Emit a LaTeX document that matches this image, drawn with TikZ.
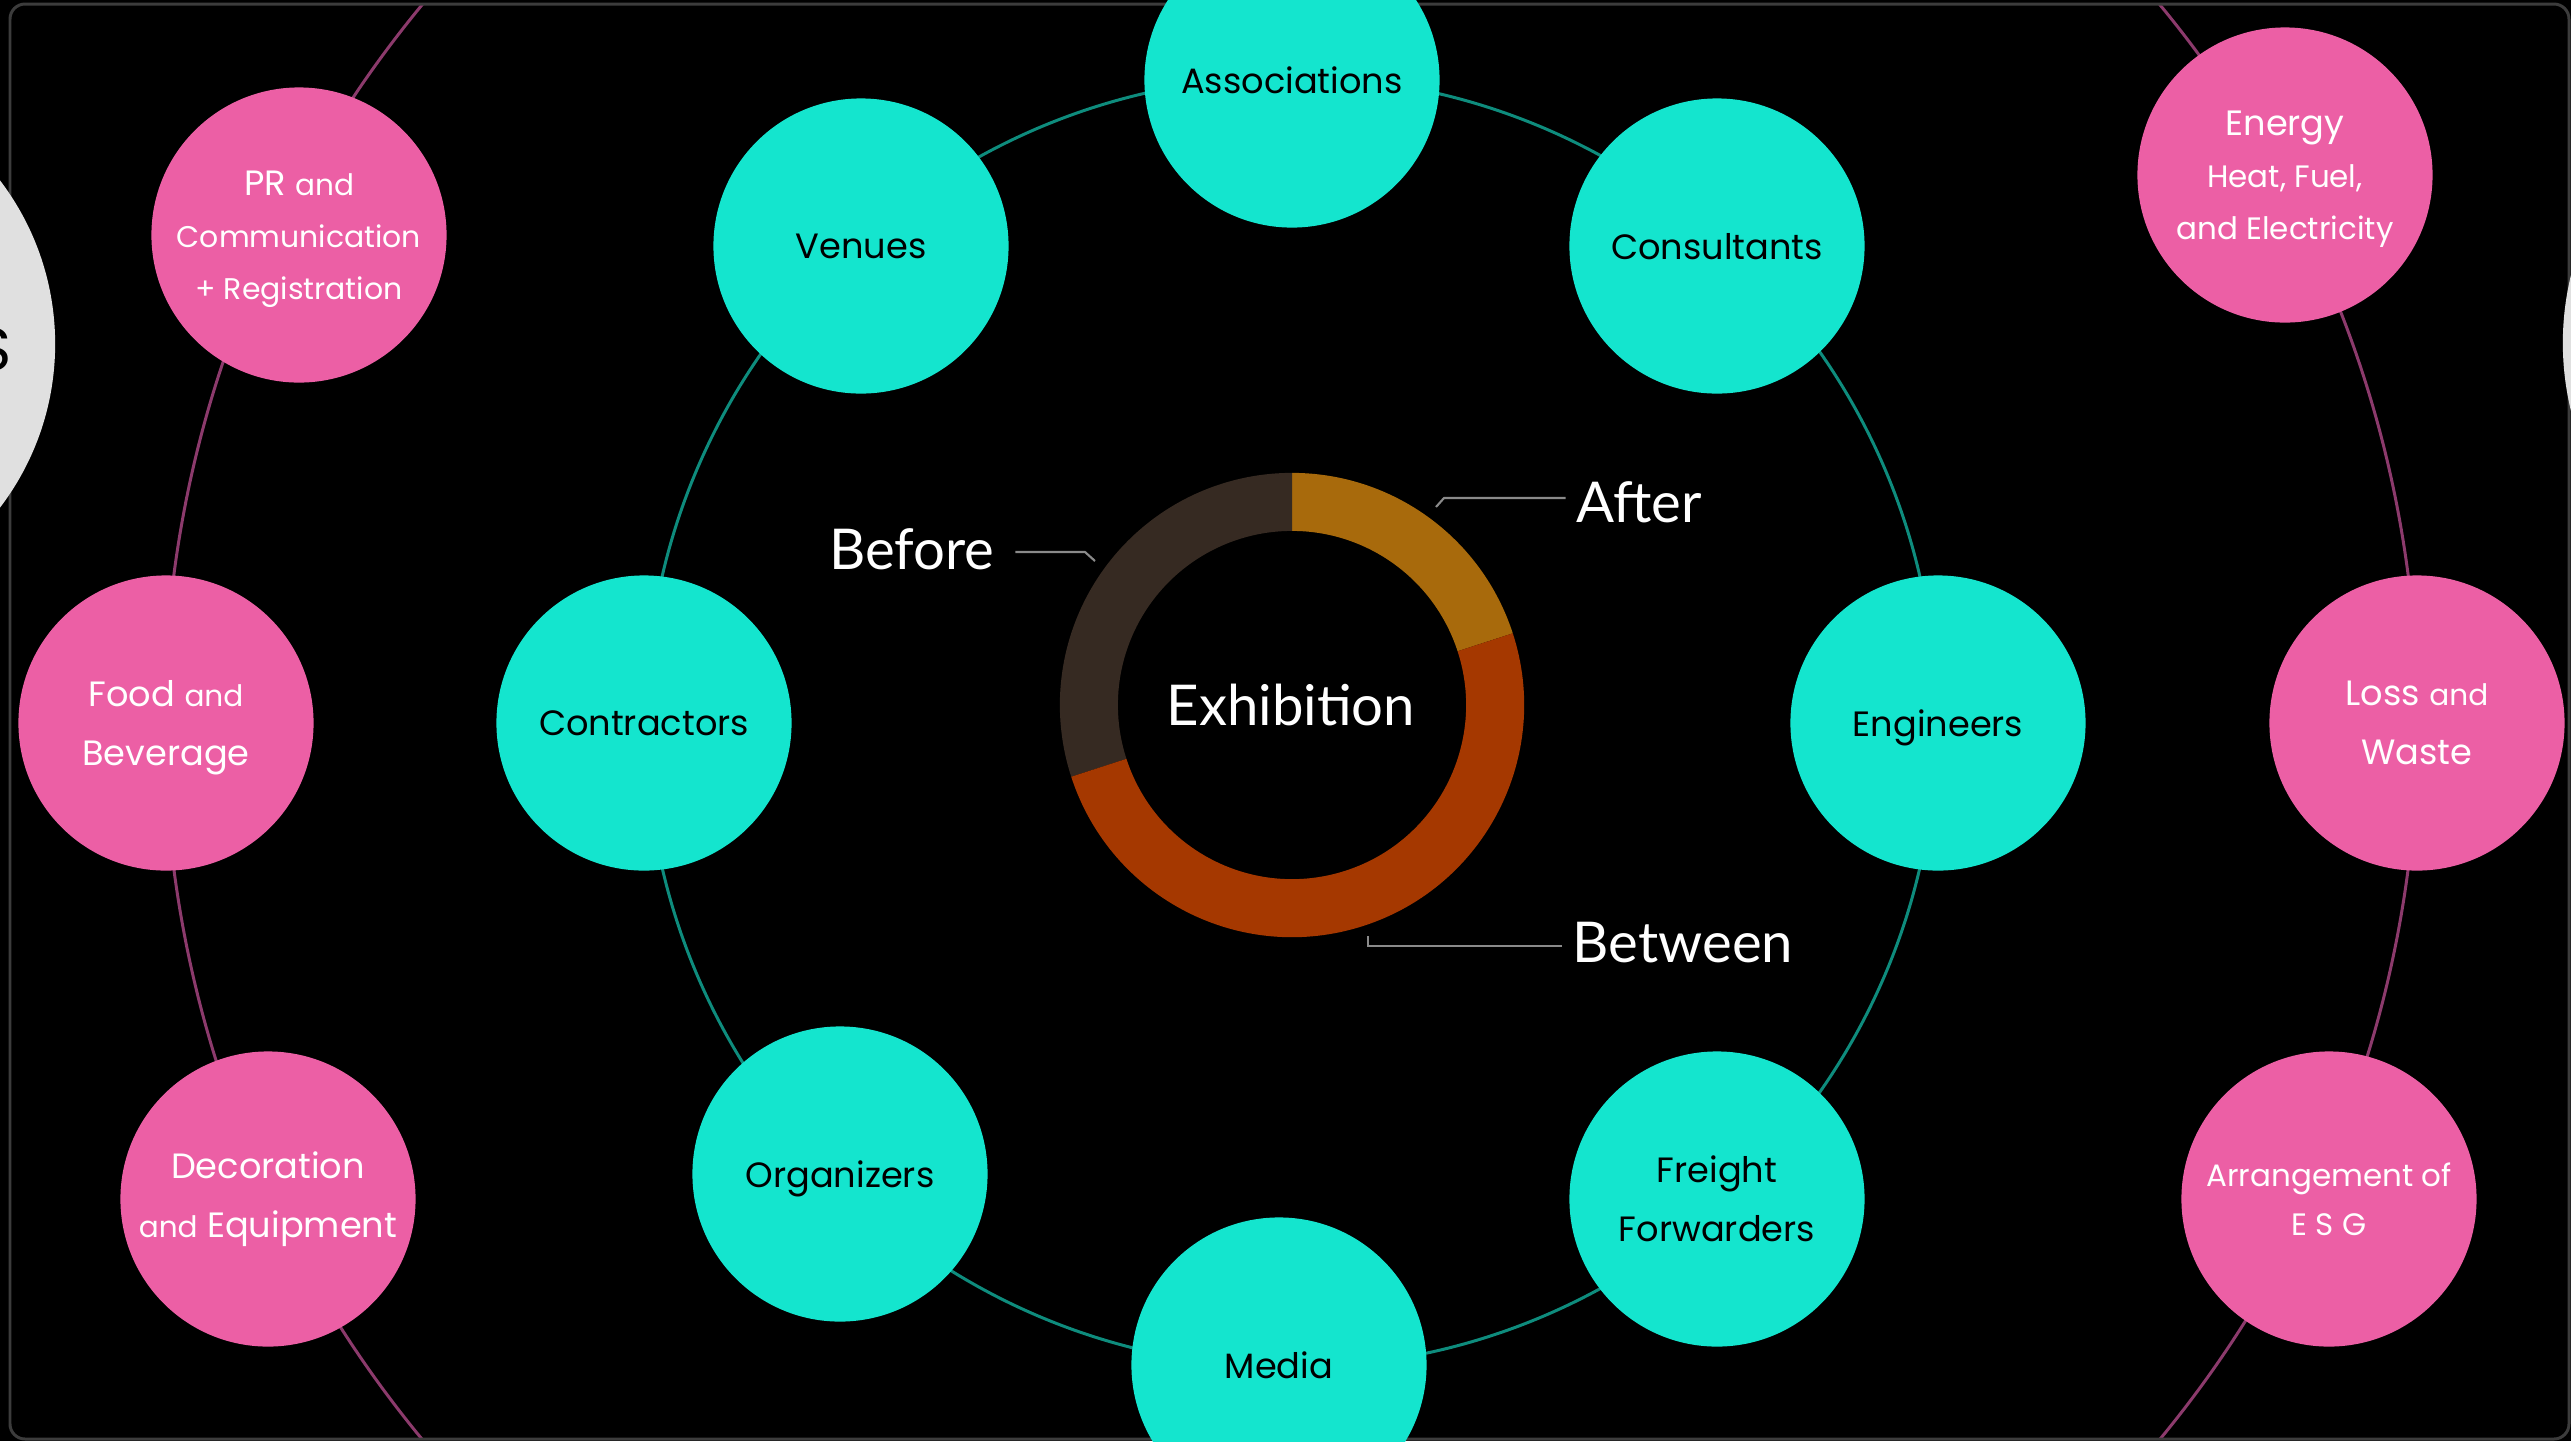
\documentclass[tikz,border=0pt]{standalone}
\usepackage{fontspec}
\setmainfont{Poppins}
\newfontfamily\donutfont{Lato}

\definecolor{aqua}{HTML}{14E5CE}
\definecolor{aquaring}{HTML}{0E8C7D}
\definecolor{rose}{HTML}{EC5FA5}
\definecolor{rosering}{HTML}{8C3A6C}
\definecolor{beforecol}{HTML}{362A22}
\definecolor{aftercol}{HTML}{A86A0C}
\definecolor{betweencol}{HTML}{A53800}
\definecolor{disc}{HTML}{E0E0E0}
\definecolor{framecol}{HTML}{3C3C3C}
\definecolor{leadercol}{HTML}{8A8A8A}

\newcommand{\andword}{{\fontsize{8.4}{10}\selectfont and}}
\newcommand{\subsize}{\fontsize{8.8}{14.8}\selectfont}

\begin{document}
\begin{tikzpicture}[x=0.01cm,y=-0.01cm,
    tealdisc/.style={circle, fill=aqua, minimum size=2.95cm, inner sep=0pt, text depth=0pt,
        align=center, text=black, font=\fontsize{10}{16.8}\selectfont},
    pinkdisc/.style={circle, fill=rose, minimum size=2.95cm, inner sep=0pt, text depth=0pt,
        align=center, text=white, font=\fontsize{10}{16.8}\selectfont},
    donutlabel/.style={inner sep=0pt, text=white, font=\donutfont\fontsize{16}{18}\selectfont},
    leader/.style={draw=leadercol, line width=0.6pt}]

    % background and frame
    \fill[black] (0,0) rectangle (2571,1441);
    \useasboundingbox (0,0) rectangle (2571,1441);
    \begin{scope}
        \clip[rounded corners=0.15cm] (11,5) rectangle (2568,1438);
        \draw[rosering, line width=0.85pt] (1291,722) circle[radius=11.26cm];
        \draw[aquaring, line width=0.85pt] (1291,722) circle[radius=6.45cm];
    \end{scope}
    \draw[framecol, line width=0.85pt, rounded corners=0.15cm] (10,4) rectangle (2569,1439);

    % side discs
    \fill[disc] (-215,344) circle[radius=2.70cm];
    \fill[disc] (2848,343) circle[radius=2.85cm];
    \node[anchor=base east, inner sep=0pt, text=black, font=\fontsize{17}{20}\selectfont] (sidetext) at (12,370) {S};

    % inner ring
    \node[tealdisc] (associations) at (1292,80) {Associations};
    \node[tealdisc] (venues) at (861,246) {Venues};
    \node[tealdisc] (consultants) at (1717,246) {Consultants};
    \node[tealdisc] (contractors) at (644,723) {Contractors};
    \node[tealdisc] (engineers) at (1938,723) {Engineers};
    \node[tealdisc] (organizers) at (840,1174) {Organizers};
    \node[tealdisc] (freight) at (1717,1199) {Freight\\Forwarders};
    \node[tealdisc] (media) at (1279,1365) {Media};

    % outer ring
    \node[pinkdisc, font=\fontsize{10}{14.8}\selectfont] (pr) at (299,235)
        {PR \andword\\{\fontsize{8.5}{14.8}\selectfont Communication}\\{\fontsize{8.5}{14.8}\selectfont + Registration}};
    \node[pinkdisc] (food) at (166,723) {Food \andword\\Beverage};
    \node[pinkdisc, text depth={}] (decoration) at (268,1199) {Decoration\\\andword{} Equipment};
    \node[pinkdisc, font=\fontsize{10}{14.8}\selectfont] (energy) at (2285,175)
        {Energy\\{\subsize Heat, Fuel,}\\{\subsize and Electricity}};
    \node[pinkdisc] (loss) at (2417,723) {Loss \andword\\Waste};
    \node[pinkdisc, font=\fontsize{8.8}{14}\selectfont] (esg) at (2329,1199)
        {Arrangement of\\E S G};

    % donut
    \begin{scope}[shift={(1292,705)}]
        \fill[aftercol] (18:2.32cm) arc[start angle=18, end angle=90, radius=2.32cm]
            -- (90:1.74cm) arc[start angle=90, end angle=18, radius=1.74cm] -- cycle;
        \fill[beforecol] (90:2.32cm) arc[start angle=90, end angle=198, radius=2.32cm]
            -- (198:1.74cm) arc[start angle=198, end angle=90, radius=1.74cm] -- cycle;
        \fill[betweencol] (198:2.32cm) arc[start angle=198, end angle=378, radius=2.32cm]
            -- (378:1.74cm) arc[start angle=378, end angle=198, radius=1.74cm] -- cycle;
    \end{scope}
    \node[donutlabel] (exhibition) at (1291,705) {Exhibition};

    \node[donutlabel] (before) at (912,549) {Before};
    \node[donutlabel] (after) at (1639,502) {After};
    \node[donutlabel] (between) at (1683,943) {Between};

    \coordinate (beforeknee) at (1085,552);
    \coordinate (beforetip) at (1095,561);
    \coordinate (afterknee) at (1444,498);
    \coordinate (aftertip) at (1436,507);
    \coordinate (betweenknee) at (1368,946);
    \coordinate (betweentip) at (1368,936);
    \draw[leader] ([xshift=2mm]before.east |- beforeknee) -- (beforeknee) -- (beforetip);
    \draw[leader] ([xshift=-1mm]after.west |- afterknee) -- (afterknee) -- (aftertip);
    \draw[leader] ([xshift=-1mm]between.west |- betweenknee) -- (betweenknee) -- (betweentip);
\end{tikzpicture}
\end{document}
